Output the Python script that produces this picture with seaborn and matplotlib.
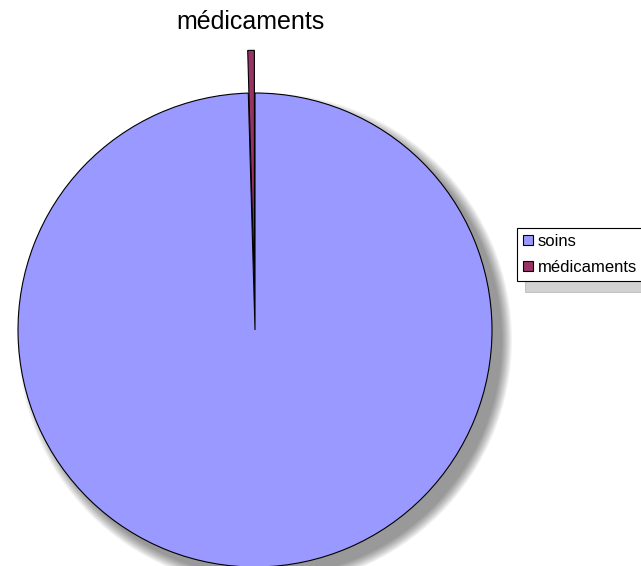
import matplotlib
matplotlib.use("Agg")
import matplotlib.pyplot as plt
from matplotlib.patches import Circle
import seaborn as sns

# --- données ---
categories = ["médicaments", "soins"]
valeurs = [0.45, 99.55]
couleurs = ["#993366", "#9999FF"]
ordre_legende = ["soins", "médicaments"]

sns.set_theme(style="white")
plt.rcParams["font.family"] = ["Liberation Sans", "DejaVu Sans"]

fig = plt.figure(figsize=(6.41, 5.66), dpi=100)
ax = fig.add_axes([0, 0, 1, 1])

R = 237.0  # rayon en pixels
cx, cy = 255.0, 330.0

# ombre floue du camembert (disques transparents décalés vers le bas à droite)
for k in range(10, -1, -1):
    ax.add_patch(Circle((10 / R, -10 / R), 1 + k / R, color="black",
                        alpha=0.045, lw=0, zorder=0))

wedges, texts = ax.pie(
    valeurs,
    labels=["médicaments", ""],
    colors=couleurs,
    startangle=90,
    counterclock=True,
    explode=[0.18, 0],
    labeldistance=1.12,
    radius=1,
    wedgeprops=dict(edgecolor="black", linewidth=0.8),
    textprops=dict(fontsize=18, color="black"),
    frame=True,
)
ax.set_xlim(-cx / R, (641 - cx) / R)
ax.set_ylim(-(566 - cy) / R, cy / R)
ax.set_aspect("auto")
ax.axis("off")
texts[0].set_ha("center")
for w in wedges:
    w.set_zorder(2)

handles = [wedges[categories.index(n)] for n in ordre_legende]
leg = fig.legend(
    handles, ordre_legende,
    loc="upper left",
    bbox_to_anchor=(517 / 641, 1 - 228 / 566),
    fontsize=12,
    labelcolor="black",
    frameon=True,
    fancybox=False,
    shadow={"color": "gray", "alpha": 0.35, "ox": 6, "oy": -8},
    handlelength=0.6,
    handleheight=0.6,
    handletextpad=0.3,
    labelspacing=0.65,
    borderpad=0.35,
    borderaxespad=0,
)
leg.get_frame().set_edgecolor("black")
leg.get_frame().set_linewidth(0.8)

fig.savefig("out.png", dpi=100)
